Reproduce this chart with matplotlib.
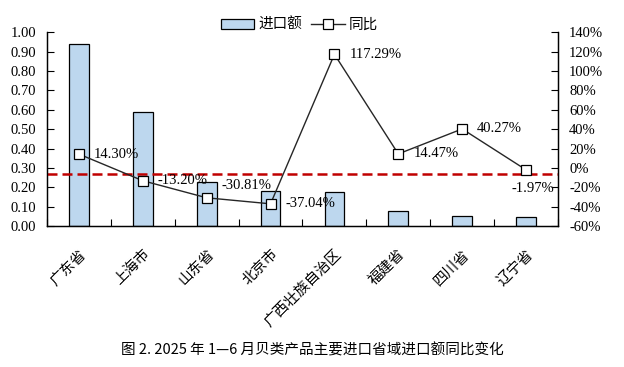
# 贝类产品主要进口省域进口额及同比
import numpy as np
import matplotlib.pyplot as plt
from matplotlib.ticker import FuncFormatter

serif = ['Liberation Serif', 'Noto Sans CJK SC']
cjk = ['Noto Sans CJK SC', 'DejaVu Sans']
plt.rcParams['font.family'] = serif

# Data
provinces = ['广东省', '上海市', '山东省', '北京市', '广西壮族自治区', '福建省', '四川省', '辽宁省']
imports = [0.94, 0.59, 0.23, 0.18, 0.175, 0.078, 0.05, 0.045]
yoy = [14.30, -13.20, -30.81, -37.04, 117.29, 14.47, 40.27, -1.97]
ref_level = 0.27
# label offsets in pixels (dx, dy) next to each marker
label_offsets = [(15, 0), (15, 0), (15, 12), (15, 0), (15, 0), (15, 0), (15, 0), (-15, -19)]

x = np.arange(len(provinces))

fig = plt.figure(figsize=(6.24, 3.67), dpi=100)
ax1 = fig.add_axes([0.0753, 0.384, 0.8189, 0.528])
ax2 = ax1.twinx()

bars = ax1.bar(x, imports, width=0.31, color='#BDD7EE', edgecolor='black', linewidth=0.9, label='进口额')
ax1.axhline(ref_level, color='#C00000', linestyle=(0, (4, 2)), linewidth=1.8, zorder=3)

line, = ax2.plot(x, yoy, color='#262626', linewidth=1.0, marker='s', markersize=6.5,
                 markerfacecolor='white', markeredgecolor='black', markeredgewidth=0.9, label='同比')

for xi, yi, (dx, dy) in zip(x, yoy, label_offsets):
    ax2.annotate(f'{yi:.2f}%', (xi, yi), xytext=(dx, dy), textcoords='offset pixels',
                 ha='left', va='center', fontsize=10.5, family=serif)

ax1.set_xlim(-0.5, len(provinces) - 0.5)
ax1.set_ylim(0, 1.0)
ax1.set_yticks(np.arange(0, 1.01, 0.1))
ax1.yaxis.set_major_formatter(FuncFormatter(lambda v, p: f'{v:.2f}'))
ax2.set_ylim(-60, 140)
ax2.set_yticks(np.arange(-60, 141, 20))
ax2.yaxis.set_major_formatter(FuncFormatter(lambda v, p: f'{v:.0f}%'))

ax1.set_xticks(x)
ax1.set_xticklabels(provinces, rotation=45, ha='right', rotation_mode='anchor', family=cjk, fontsize=10.5)
ax1.set_xticks(np.arange(-0.5, len(provinces), 1), minor=True)
ax1.tick_params(axis='x', which='major', length=0, pad=15)
ax1.tick_params(axis='x', which='minor', direction='in', length=5, width=0.8)
ax1.tick_params(axis='y', direction='in', length=5, width=0.8, labelsize=10.5, pad=8)
ax2.tick_params(axis='y', direction='in', length=5, width=0.8, labelsize=10.5, pad=8)

for ax in (ax1, ax2):
    ax.spines['top'].set_visible(False)
    for s in ('left', 'right', 'bottom'):
        ax.spines[s].set_linewidth(0.9)

fig.legend(handles=[bars, line], labels=['进口额', '同比'], loc='center', bbox_to_anchor=(0.48, 0.932),
           ncol=2, frameon=False, prop={'family': cjk, 'size': 10.5}, handlelength=2.3,
           handletextpad=0.3, columnspacing=0.6)

fig.text(0.5, 0.045, '图 2. 2025 年 1—6 月贝类产品主要进口省域进口额同比变化', ha='center', va='center',
         fontsize=10.5, family=cjk)

fig.savefig('out.png', dpi=100)
